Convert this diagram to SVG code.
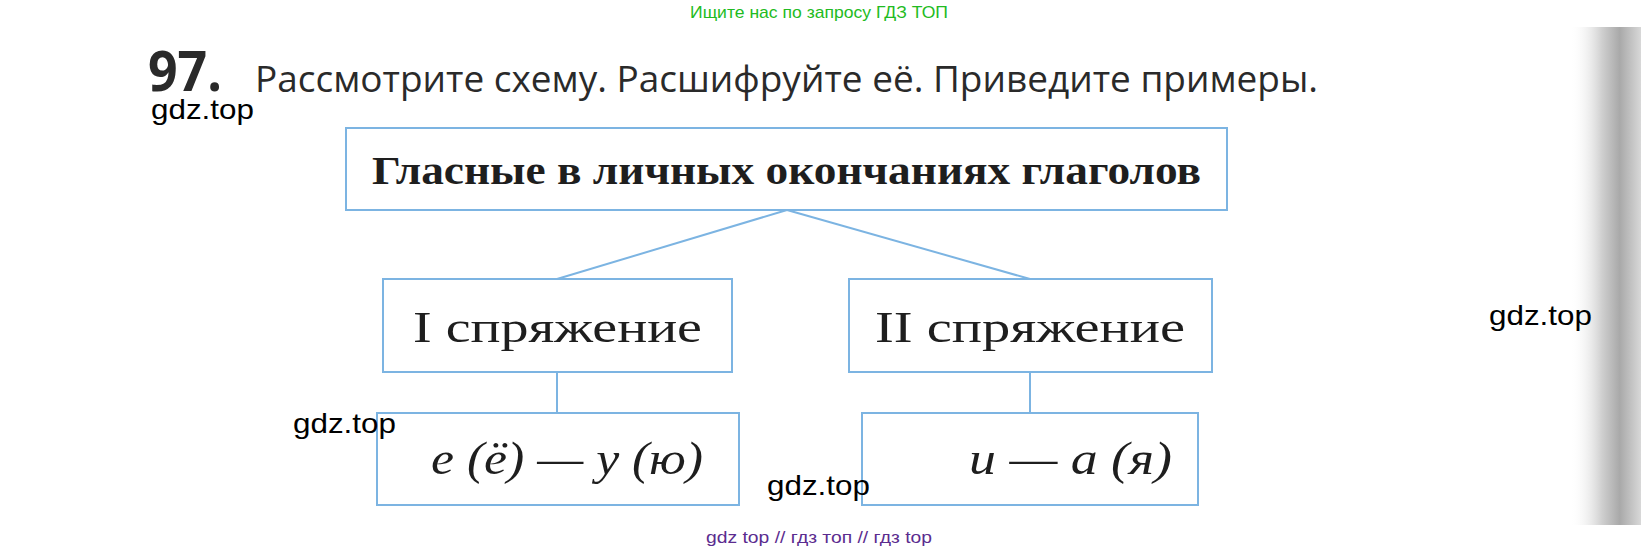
<svg xmlns="http://www.w3.org/2000/svg" width="1641" height="553" viewBox="0 0 1641 553">
  <defs>
    <linearGradient id="edge" x1="0" y1="0" x2="1" y2="0">
      <stop offset="0" stop-color="#ffffff" stop-opacity="0"/>
      <stop offset="0.45" stop-color="#cfcfcf"/>
      <stop offset="0.7" stop-color="#a9a9a9"/>
      <stop offset="1" stop-color="#d8d8d8"/>
    </linearGradient>
  </defs>
  <style>
    .box { fill: #ffffff; stroke: #7cb4e2; stroke-width: 2; }
    .conn { stroke: #7cb4e2; stroke-width: 2; fill: none; }
    .serif { font-family: "Liberation Serif", "DejaVu Serif", serif; fill: #1e1e1e; }
    .wm { font-family: "Liberation Sans", Arial, sans-serif; fill: #000000; font-size: 28px; }
    .head { font-family: "Open Sans", "Noto Sans", sans-serif; fill: #2a2a2a; }
  </style>
  <rect x="0" y="0" width="1641" height="553" fill="#ffffff"/>
  <rect x="1570" y="27" width="71" height="498" fill="url(#edge)"/>

  <text x="690" y="18" font-family="Liberation Sans, Arial, sans-serif" font-size="17" fill="#22bb22" textLength="258" lengthAdjust="spacingAndGlyphs">Ищите нас по запросу ГДЗ ТОП</text>

  <g id="heading">
    <text x="148" y="91" class="head" font-size="55" font-weight="bold" textLength="74" lengthAdjust="spacingAndGlyphs">97.</text>
    <text x="255" y="92" class="head" font-size="36" textLength="1063" lengthAdjust="spacingAndGlyphs">Рассмотрите схему. Расшифруйте её. Приведите примеры.</text>
  </g>

  <g id="connectors">
    <line class="conn" x1="787" y1="210" x2="557" y2="279"/>
    <line class="conn" x1="787" y1="210" x2="1030" y2="279"/>
    <line class="conn" x1="557" y1="372" x2="557" y2="413"/>
    <line class="conn" x1="1030" y1="372" x2="1030" y2="413"/>
  </g>

  <g id="node-root">
    <rect class="box" x="346" y="128" width="881" height="82"/>
    <text x="372" y="184" class="serif" font-size="39" font-weight="bold" textLength="829" lengthAdjust="spacingAndGlyphs">Гласные в личных окончаниях глаголов</text>
  </g>

  <g id="node-conj1">
    <rect class="box" x="383" y="279" width="349" height="93"/>
    <text x="413" y="342" class="serif" font-size="45" textLength="289" lengthAdjust="spacingAndGlyphs">I спряжение</text>
  </g>

  <g id="node-conj2">
    <rect class="box" x="849" y="279" width="363" height="93"/>
    <text x="875" y="342" class="serif" font-size="45" textLength="310" lengthAdjust="spacingAndGlyphs">II спряжение</text>
  </g>

  <g id="node-vowels1">
    <rect class="box" x="377" y="413" width="362" height="92"/>
    <text x="431" y="474" class="serif" font-size="46" font-style="italic" textLength="272" lengthAdjust="spacingAndGlyphs">е (ё) — у (ю)</text>
  </g>

  <g id="node-vowels2">
    <rect class="box" x="862" y="413" width="336" height="92"/>
    <text x="969" y="474" class="serif" font-size="46" font-style="italic" textLength="203" lengthAdjust="spacingAndGlyphs">и — а (я)</text>
  </g>

  <text x="151" y="119" class="wm" textLength="103" lengthAdjust="spacingAndGlyphs">gdz.top</text>
  <text x="1489" y="325" class="wm" textLength="103" lengthAdjust="spacingAndGlyphs">gdz.top</text>
  <text x="293" y="433" class="wm" textLength="103" lengthAdjust="spacingAndGlyphs">gdz.top</text>
  <text x="767" y="495" class="wm" textLength="103" lengthAdjust="spacingAndGlyphs">gdz.top</text>

  <text x="706" y="543" font-family="Liberation Sans, Arial, sans-serif" font-size="17" fill="#5b2c8f" textLength="226" lengthAdjust="spacingAndGlyphs">gdz top  //  гдз топ  //  гдз top</text>
</svg>
